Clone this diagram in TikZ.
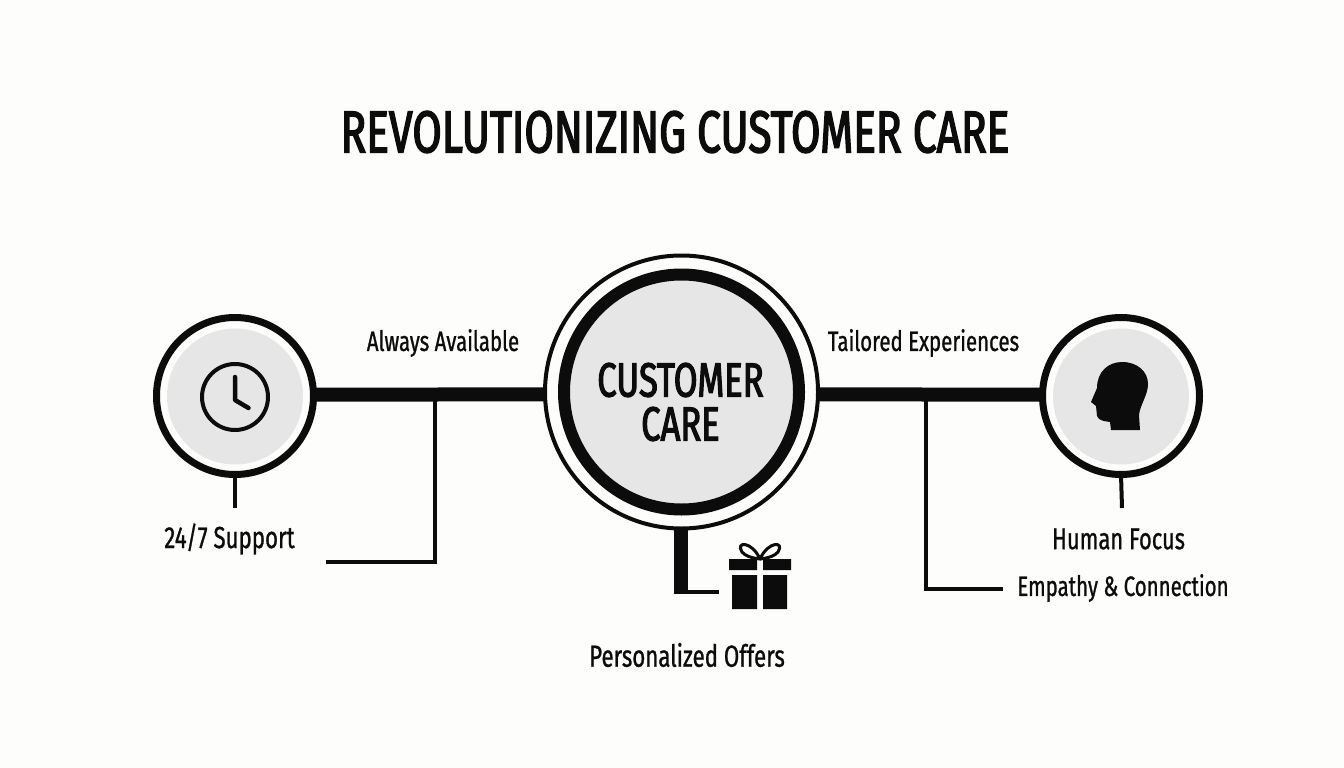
\documentclass[tikz,border=0pt]{standalone}
\usepackage{fontspec}
\setmainfont{Fira Sans}
\newfontfamily\labelfont[FakeStretch=0.73,FakeBold=0.9]{Fira Sans}
\newfontfamily\titlefont[FakeStretch=0.72,FakeBold=2.4]{Fira Sans}
\definecolor{paper}{HTML}{FDFDFC}
\definecolor{disc}{HTML}{E6E6E6}
\definecolor{ink}{HTML}{0C0C0C}
\begin{document}
\begin{tikzpicture}[x=1pt,y=-1pt,
        ring/.style={circle, draw=ink, line width=7pt, minimum size=157pt, inner sep=0pt, outer sep=0pt},
        face/.style={circle, fill=disc, minimum size=136pt, inner sep=0pt, outer sep=0pt},
        trunk/.style={draw=ink, line width=14pt},
        branch/.style={draw=ink, line width=3.5pt},
        caption/.style={text=ink, font=\labelfont\fontsize{#1}{32}\selectfont, inner sep=0pt},
        heading/.style={text=ink, font=\titlefont\fontsize{59}{62}\selectfont, inner sep=0pt}
    ]

    \fill[paper] (0,0) rectangle (1344,768);
    \useasboundingbox (0,0) rectangle (1344,768);

    \node[heading] (title) at (675,132) {REVOLUTIONIZING CUSTOMER CARE};

    % Centre disc with its two rings
    \node[circle, draw=ink, line width=4pt, minimum size=273pt, inner sep=0pt, outer sep=0pt] (carering) at (681.5,392) {};
    \node[circle, draw=ink, fill=disc, line width=12pt, minimum size=235pt, inner sep=0pt, outer sep=0pt] (caredisc) at (681.5,392) {};
    \node[text=ink, align=center, font=\titlefont\fontsize{48}{44}\selectfont, inner sep=0pt] (caretext) at (680.5,402) {CUSTOMER\\CARE};

    % Side discs
    \foreach \name/\x in {clock/235, head/1121} {
            \node[face] (\name face) at (\x,396.5) {};
            \node[ring] (\name ring) at (\x,396) {};
        }

    % Clock icon
    \node[circle, draw=ink, line width=4pt, minimum size=66pt, inner sep=0pt, outer sep=0pt] (dial) at (235,397) {};
    \draw[ink, line width=4.5pt, line cap=round, line join=round] (235,377) -- (235,400) -- (248.5,408);

    % Head icon
    \fill[ink] (1122,362) .. controls (1138,362) and (1148,372) .. (1148,384)
        .. controls (1148,395) and (1140,405) .. (1139,415) -- (1140,430) -- (1111,430) -- (1110,422)
        .. controls (1104,421) and (1099,421) .. (1097,416) -- (1096,406) -- (1091,402) -- (1097,388)
        .. controls (1097,372) and (1108,362) .. (1122,362) -- cycle;

    % Gift icon
    \fill[ink] (729,559) rectangle (757,570) (763,559) rectangle (791,570);
    \fill[ink] (732,575) rectangle (757,609) (763,575) rectangle (787,609);
    \draw[ink, line width=3pt] (760,559) .. controls (752,541) and (735,541) .. (742,552)
        .. controls (745,556) and (752,558) .. (760,559)
        .. controls (768,541) and (785,541) .. (778,552)
        .. controls (775,556) and (768,558) .. (760,559);

    % Free ends of the connectors
    \coordinate (clockfoot) at (235,508);
    \coordinate (headfoot) at (1122,508);
    \coordinate (lefttap) at (435,394);
    \coordinate (leftbend) at (435,562);
    \coordinate (leftend) at (326,562);
    \coordinate (righttap) at (926,394);
    \coordinate (rightbend) at (926,589);
    \coordinate (rightend) at (1003,589);
    \coordinate (giftbend) at (681,594);
    \coordinate (giftcorner) at (674,592);
    \coordinate (giftend) at (719,592);

    \draw[trunk] (clockring.1) -- (carering.181);
    \draw[trunk] (carering.-1) -- (headring.179);
    \draw[branch, line width=4pt] (clockring.south) -- (clockfoot);
    \draw[branch, line width=4pt] (headring.south) -- (headfoot);
    \draw[branch] (lefttap) -- (leftbend) -- (leftend);
    \draw[branch] (righttap) -- (rightbend) -- (rightend);
    \draw[trunk] (carering.south -| giftbend) -- (giftbend);
    \draw[branch, line width=4pt] (giftcorner) -- (giftend);

    % Captions
    \foreach \name/\x/\y/\sz/\txt in {always/443/343/28/Always Available,
            tailored/923.5/343/28/Tailored Experiences,
            support/229.5/539/30.5/24\slash 7 Support,
            focus/1118.5/539/30/Human Focus,
            empathy/1123/588/28/Empathy \& Connection,
            offers/687/655/30.5/Personalized Offers} {
            \node[caption=\sz] (\name) at (\x,\y) {\txt};
        }
\end{tikzpicture}
\end{document}
